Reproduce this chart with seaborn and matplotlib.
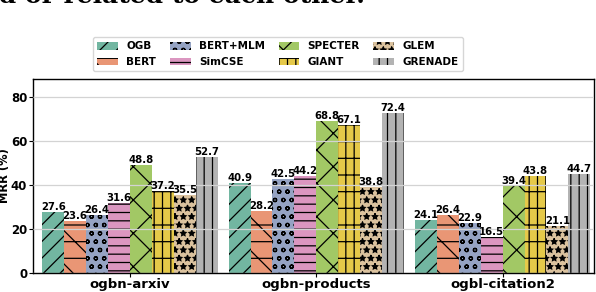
import numpy as np
import pandas as pd
import matplotlib
matplotlib.use("Agg")
import matplotlib.pyplot as plt
import seaborn as sns

# Data
datasets = ["ogbn-arxiv", "ogbn-products", "ogbl-citation2"]
methods = ["OGB", "BERT", "BERT+MLM", "SimCSE", "SPECTER", "GIANT", "GLEM", "GRENADE"]
arxiv = [27.6, 23.6, 26.4, 31.6, 48.8, 37.2, 35.5, 52.7]
products = [40.9, 28.2, 42.5, 44.2, 68.8, 67.1, 38.8, 72.4]
citation2 = [24.1, 26.4, 22.9, 16.5, 39.4, 43.8, 21.1, 44.7]
hatches = ["//", "\\-", "oo", "--", "x", "+|", "**", "||"]

rows = []
for ds, vals in zip(datasets, [arxiv, products, citation2]):
    for m, v in zip(methods, vals):
        rows.append({"dataset": ds, "method": m, "MRR": v})
df = pd.DataFrame(rows)

plt.rcParams["font.family"] = ["DejaVu Sans"]
plt.rcParams["font.weight"] = "bold"
plt.rcParams["axes.labelweight"] = "bold"
plt.rcParams["hatch.linewidth"] = 0.9

fig = plt.figure(figsize=(5.96, 2.92), dpi=100)
ax = fig.add_axes([33 / 596, 1 - 273 / 292, 561 / 596, 194 / 292])

sns.barplot(data=df, x="dataset", y="MRR", hue="method", order=datasets,
            hue_order=methods, palette="Set2", width=0.94, ax=ax,
            edgecolor="black", linewidth=0, legend=False)

for cont, h in zip(ax.containers, hatches):
    for p in cont:
        p.set_hatch(h)
    ax.bar_label(cont, fmt="%.1f", fontsize=7.3, fontweight="bold", padding=0)

ax.set_xlim(-0.52, 2.49)
ax.set_ylim(0, 88)
ax.set_yticks([0, 20, 40, 60, 80])
ax.yaxis.grid(True, color="#d3d3d3", linewidth=0.9)
ax.set_axisbelow(False)
for s in ax.spines.values():
    s.set_color("black")
    s.set_linewidth(1.0)
ax.set_xlabel("")
ax.set_ylabel("MRR (%)", fontsize=8.3, fontweight="bold")
ax.yaxis.set_label_coords(-21.5 / 561, 0.5)
ax.tick_params(axis="x", labelsize=9.5, length=3, pad=0.5)
ax.tick_params(axis="y", labelsize=8.5, length=3, pad=1.2)
for t in ax.get_xticklabels() + ax.get_yticklabels():
    t.set_fontweight("bold")

fig.legend(ax.containers, methods, ncol=4, loc="upper center",
           bbox_to_anchor=(278 / 596, 1 - 32 / 292), fontsize=7.5,
           frameon=True, handlelength=2.0, handleheight=0.8,
           columnspacing=1.3, handletextpad=0.8, borderpad=0.4,
           labelspacing=0.55, edgecolor="#cccccc", fancybox=True)

# caption text cut off at the top of the crop
fig.text(365 / 596, 1 - 3 / 292, "nected or related to each other.",
         ha="right", va="baseline", fontsize=18, family="DejaVu Serif",
         fontweight="bold")

fig.savefig("out.png", dpi=100)
